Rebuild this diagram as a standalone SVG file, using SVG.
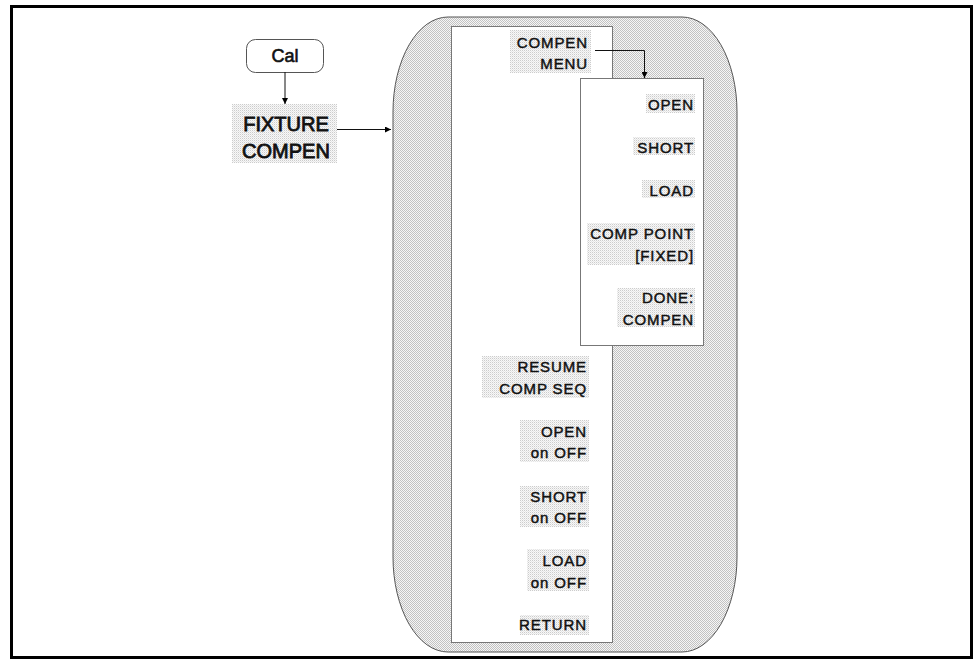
<svg xmlns="http://www.w3.org/2000/svg" width="977" height="660" viewBox="0 0 977 660">
<defs>
<pattern id="dense" width="2" height="2" patternUnits="userSpaceOnUse">
<rect width="2" height="2" fill="#f6f6f6"/>
<rect width="1" height="1" fill="#c2c2c2"/>
<rect x="1" y="1" width="1" height="1" fill="#c2c2c2"/>
</pattern>
<pattern id="light" width="2" height="2" patternUnits="userSpaceOnUse">
<rect width="2" height="2" fill="#f8f8f8"/>
<rect width="1" height="1" fill="#cccccc"/>
<rect x="1" y="1" width="1" height="1" fill="#e6e6e6"/>
</pattern>
<marker id="arr" viewBox="0 0 10 10" refX="10" refY="5" markerWidth="8" markerHeight="6" markerUnits="userSpaceOnUse" orient="auto">
<path d="M0,0 L10,5 L0,10 z" fill="#000"/>
</marker>
</defs>
<style>
.lbl{font-family:"Liberation Sans",Arial,sans-serif;font-size:15px;letter-spacing:0.9px;fill:#111;stroke:#111;stroke-width:0.45px;text-anchor:end}
.big{font-family:"Liberation Sans",Arial,sans-serif;font-size:20px;fill:#111;stroke:#111;stroke-width:0.8px;text-anchor:middle}
.bg{fill:url(#light)}
.panel{fill:#fff;stroke:#777;stroke-width:1}
.conn{fill:none;stroke:#111;stroke-width:1;marker-end:url(#arr)}
</style>
<rect x="0" y="0" width="977" height="660" fill="#fff"/>
<rect x="11.5" y="6.5" width="960" height="651" fill="none" stroke="#000" stroke-width="3"/>

<g id="menu-area">
<path d="M393,112 A55,95 0 0 1 448,17 L682,17 A55,95 0 0 1 737,112 L737,557 A55,95 0 0 1 682,652 L448,652 A55,95 0 0 1 393,557 Z" fill="url(#dense)" stroke="#555" stroke-width="1"/>
</g>

<g id="main-panel">
<rect class="panel" x="451.5" y="26.5" width="161" height="616"/>
</g>

<g id="cal">
<rect x="246.5" y="39.5" width="77" height="33" rx="9" fill="#fff" stroke="#555" stroke-width="1"/>
<text x="285" y="62" font-family="'Liberation Sans',Arial,sans-serif" font-size="18" fill="#111" stroke="#111" stroke-width="0.6" text-anchor="middle">Cal</text>
</g>

<g id="fixture-compen">
<rect class="bg" x="232" y="104" width="105" height="59"/>
<text class="big" x="286" y="131">FIXTURE</text>
<text class="big" x="286" y="158">COMPEN</text>
</g>

<g id="compen-menu">
<rect class="bg" x="510" y="30" width="81" height="43"/>
<text class="lbl" x="588" y="48">COMPEN</text>
<text class="lbl" x="588" y="69">MENU</text>
</g>

<g id="submenu">
<rect class="panel" x="580.5" y="78.5" width="123" height="267"/>
<g id="sub-open"><rect class="bg" x="646" y="94" width="49" height="19"/><text class="lbl" x="694" y="110">OPEN</text></g>
<g id="sub-short"><rect class="bg" x="633" y="137" width="62" height="18"/><text class="lbl" x="694" y="153">SHORT</text></g>
<g id="sub-load"><rect class="bg" x="642" y="180" width="53" height="18"/><text class="lbl" x="694" y="196">LOAD</text></g>
<g id="sub-comp-point"><rect class="bg" x="587" y="223" width="108" height="42"/><text class="lbl" x="694" y="239">COMP POINT</text><text class="lbl" x="694" y="261">[FIXED]</text></g>
<g id="sub-done"><rect class="bg" x="617" y="288" width="78" height="39"/><text class="lbl" x="694" y="303">DONE:</text><text class="lbl" x="694" y="325">COMPEN</text></g>
</g>

<g id="resume"><rect class="bg" x="482" y="356" width="107" height="42"/><text class="lbl" x="587" y="372">RESUME</text><text class="lbl" x="587" y="394">COMP SEQ</text></g>
<g id="open-onoff"><rect class="bg" x="520" y="420" width="69" height="42"/><text class="lbl" x="587" y="437">OPEN</text><text class="lbl" x="587" y="458">on OFF</text></g>
<g id="short-onoff"><rect class="bg" x="520" y="486" width="69" height="41"/><text class="lbl" x="587" y="502">SHORT</text><text class="lbl" x="587" y="523">on OFF</text></g>
<g id="load-onoff"><rect class="bg" x="527" y="549" width="62" height="42"/><text class="lbl" x="587" y="566">LOAD</text><text class="lbl" x="587" y="588">on OFF</text></g>
<g id="return"><rect class="bg" x="520" y="615" width="69" height="20"/><text class="lbl" x="587" y="630">RETURN</text></g>

<g id="connectors">
<line class="conn" x1="285" y1="72" x2="285" y2="104"/>
<line class="conn" x1="337" y1="129.5" x2="391" y2="129.5"/>
<polyline class="conn" points="595,50.5 644.5,50.5 644.5,78"/>
</g>
</svg>
